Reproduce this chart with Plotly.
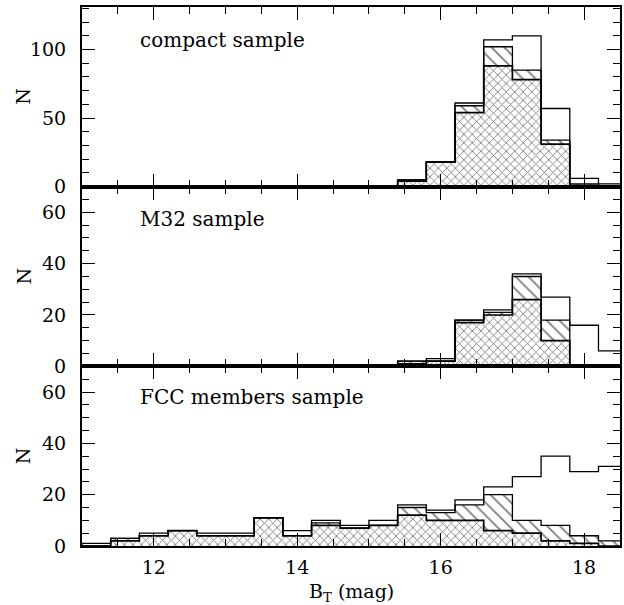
import plotly.graph_objects as go
from plotly.subplots import make_subplots

# ---- data ----
bin_lo = [11.0, 11.4, 11.8, 12.2, 12.6, 13.0, 13.4, 13.8, 14.2, 14.6,
          15.0, 15.4, 15.8, 16.2, 16.6, 17.0, 17.4, 17.8, 18.2]
bin_width = 0.4

compact_all = [0]*11 + [5, 18, 61, 107, 110, 57, 6, 2]
compact_mid = [0]*11 + [5, 18, 59, 102, 85, 34, 2, 0]
compact_in  = [0]*11 + [4, 18, 54, 88, 78, 31, 1, 0]

m32_all = [0]*11 + [2, 3, 18, 22, 36, 27, 16, 6]
m32_mid = [0]*11 + [2, 2, 18, 21, 35, 18, 0, 0]
m32_in  = [0]*11 + [1, 2, 17, 20, 26, 10, 0, 0]

fcc_all = [1, 3, 5, 6, 5, 5, 11, 6, 10, 8, 10, 16, 14, 18, 23, 27, 35, 29, 31]
fcc_mid = [0, 3, 4, 6, 4, 4, 11, 4, 9, 7, 8, 15, 13, 16, 20, 10, 8, 4, 2]
fcc_in  = [0, 2, 4, 6, 4, 4, 11, 4, 8, 7, 8, 12, 10, 10, 6, 5, 2, 1, 0]

panel_labels = ["compact sample", "M32 sample", "FCC members sample"]
x_ticks = [12, 14, 16, 18]
y_ticks_top = [0, 50, 100]
y_ticks_low = [0, 20, 40, 60]

FONT = "DejaVu Serif"

fig = make_subplots(rows=3, cols=1, shared_xaxes=True, vertical_spacing=0)

centers = [b + bin_width / 2 for b in bin_lo]

def add_panel(row, allv, midv, inv):
    fig.add_trace(go.Bar(x=centers, y=midv, width=bin_width,
                         marker=dict(color="white", line=dict(width=0),
                                     pattern=dict(shape="\\", size=9, solidity=0.2,
                                                  fgcolor="black", bgcolor="white")),
                         showlegend=False, hoverinfo="skip"), row=row, col=1)
    fig.add_trace(go.Bar(x=centers, y=inv, width=bin_width,
                         marker=dict(color="white", line=dict(width=0),
                                     pattern=dict(shape="x", size=6, solidity=0.28,
                                                  fgcolor="black", bgcolor="white")),
                         showlegend=False, hoverinfo="skip"), row=row, col=1)
    hi = bin_lo[-1] + bin_width
    for vals, w in ((allv, 1.3), (midv, 1.3), (inv, 1.7)):
        xs = [bin_lo[0]] + list(bin_lo) + [hi]
        ys = [0] + list(vals) + [0]
        fig.add_trace(go.Scatter(x=xs, y=ys, mode="lines", line_shape="hv",
                                 line=dict(color="black", width=w),
                                 showlegend=False, hoverinfo="skip"), row=row, col=1)

add_panel(1, compact_all, compact_mid, compact_in)
add_panel(2, m32_all, m32_mid, m32_in)
add_panel(3, fcc_all, fcc_mid, fcc_in)

xcommon = dict(range=[11, 18.5], tickvals=x_ticks, ticks="inside", ticklen=13,
               tickwidth=1.2, tickcolor="black", showline=True, linewidth=2,
               linecolor="black", mirror="allticks", showgrid=False, zeroline=False,
               automargin=False, ticklabelstandoff=3,
               minor=dict(dtick=0.5, tick0=11, ticks="inside", ticklen=7,
                          tickwidth=1.2, tickcolor="black"),
               tickfont=dict(family=FONT, size=19, color="black"))
for i in (1, 2, 3):
    fig.update_xaxes(row=i, col=1, **xcommon)

ycommon = dict(ticks="inside", ticklen=13, tickwidth=1.2, tickcolor="black",
               showline=True, linewidth=2, linecolor="black", mirror="allticks",
               showgrid=False, zeroline=False, ticklabelstandoff=10, automargin=False,
               tickfont=dict(family=FONT, size=19, color="black"))
fig.update_yaxes(row=1, col=1, range=[0, 131], tickvals=y_ticks_top,
                 minor=dict(dtick=10, ticks="inside", ticklen=7, tickwidth=1.2,
                            tickcolor="black"), **ycommon)
for i in (2, 3):
    fig.update_yaxes(row=i, col=1, range=[0, 70], tickvals=y_ticks_low,
                     minor=dict(dtick=5, ticks="inside", ticklen=7, tickwidth=1.2,
                                tickcolor="black"), **ycommon)

ann_pos = [("x", "y", 107), ("x2", "y2", 57.5), ("x3", "y3", 58)]
for (xr, yr, yv), txt in zip(ann_pos, panel_labels):
    fig.add_annotation(x=11.78, y=yv, xref=xr, yref=yr, text=txt, showarrow=False,
                       xanchor="left", yanchor="middle",
                       font=dict(family=FONT, size=20, color="black"))
    # y-axis title "N" for each panel
    fig.add_annotation(x=0, y=0.5, xref="paper", yref=yr + " domain", text="N",
                       textangle=-90, showarrow=False, xanchor="center",
                       yanchor="middle", xshift=-59,
                       font=dict(family=FONT, size=19, color="black"))

fig.add_annotation(x=0.5, y=0, xref="paper", yref="paper", text="B<sub>T</sub> (mag)",
                   showarrow=False, xanchor="center", yanchor="middle", yshift=-46,
                   font=dict(family=FONT, size=19, color="black"))

fig.update_layout(width=624, height=605, barmode="overlay", bargap=0,
                  plot_bgcolor="white", paper_bgcolor="white",
                  margin=dict(l=82, r=4, t=7, b=59), showlegend=False)

fig.write_html("out.html", config={"displayModeBar": False},
               post_script="document.body.style.margin='0';document.body.style.padding='0';")
